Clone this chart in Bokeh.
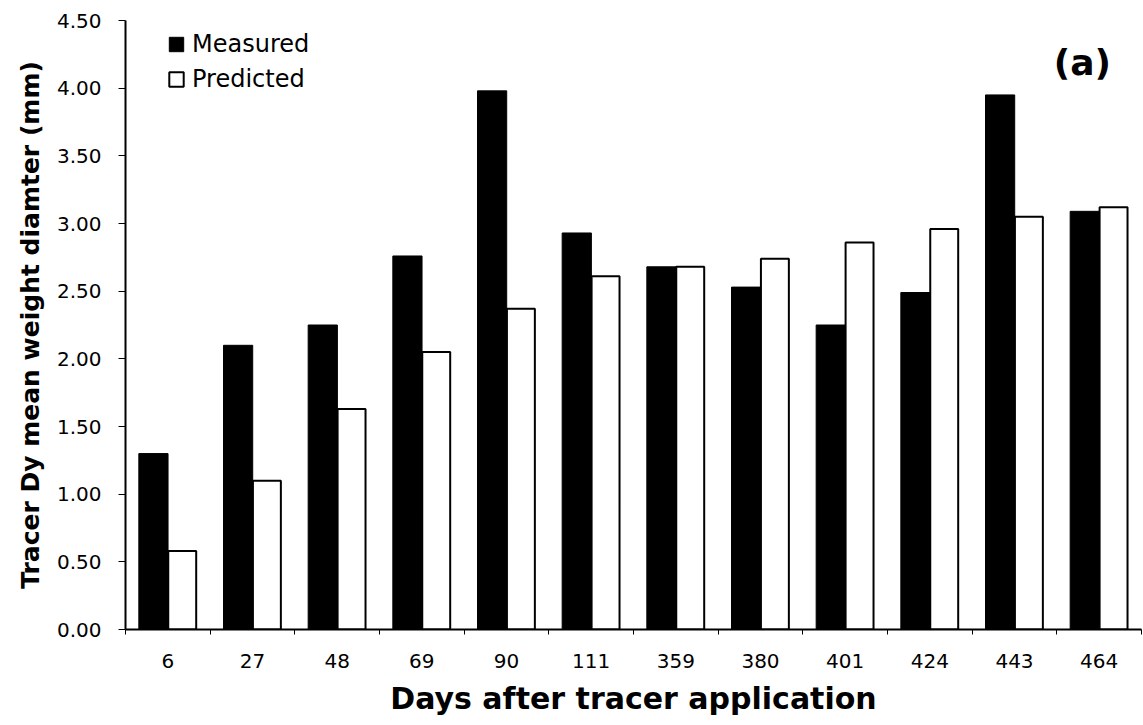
from bokeh.plotting import figure
from bokeh.models import (ColumnDataSource, FixedTicker, Range1d, Legend, LegendItem,
                          Label, NumeralTickFormatter)
from bokeh.embed import file_html
from bokeh.resources import INLINE

days = ["6", "27", "48", "69", "90", "111", "359", "380", "401", "424", "443", "464"]
measured = [1.30, 2.10, 2.25, 2.76, 3.98, 2.93, 2.68, 2.53, 2.25, 2.49, 3.95, 3.09]
predicted = [0.58, 1.10, 1.63, 2.05, 2.37, 2.61, 2.68, 2.74, 2.86, 2.96, 3.05, 3.12]
y_ticks = [0.0, 0.5, 1.0, 1.5, 2.0, 2.5, 3.0, 3.5, 4.0, 4.5]

n = len(days)
centers = [i + 0.5 for i in range(n)]
src = ColumnDataSource(dict(
    xm=[c - 0.17 for c in centers],
    xp=[c + 0.17 for c in centers],
    m=measured, p=predicted))

FONT = "DejaVu Sans"

p = figure(width=1143, height=725, output_backend="svg", toolbar_location=None,
           x_range=Range1d(0, n), y_range=Range1d(0, 4.5),
           min_border_left=125, min_border_right=2, min_border_top=20, min_border_bottom=96)
p.outline_line_color = None
p.xgrid.grid_line_color = None
p.ygrid.grid_line_color = None

rm = p.vbar(x="xm", top="m", width=0.345, source=src, fill_color="black", line_color="black")
rp = p.vbar(x="xp", top="p", width=0.33, source=src, fill_color="white", line_color="black",
            line_width=2)

# x axis
p.xaxis.ticker = FixedTicker(ticks=centers, minor_ticks=list(range(n + 1)))
p.xaxis.major_label_overrides = {c: d for c, d in zip(centers, days)}
p.xaxis.minor_tick_line_color = "black"
p.xaxis.minor_tick_out = 5
p.xaxis.minor_tick_in = 0
p.xaxis.major_label_standoff = 18
p.xaxis.axis_label = "Days after tracer application"
p.xaxis.axis_label_standoff = 10

# y axis
p.yaxis.ticker = FixedTicker(ticks=y_ticks)
p.yaxis.formatter = NumeralTickFormatter(format="0.00")
p.yaxis.minor_tick_line_color = None
p.yaxis.major_tick_out = 7
p.yaxis.major_tick_in = 0
p.yaxis.major_label_standoff = 17
p.yaxis.axis_label = "Tracer Dy mean weight diamter (mm)"
p.yaxis.axis_label_standoff = 9

for ax in (p.xaxis[0], p.yaxis[0]):
    ax.axis_line_width = 2
    ax.axis_line_color = "black"
    ax.major_label_text_font = FONT
    ax.major_label_text_font_size = "20px"
    ax.major_label_text_color = "black"
    ax.axis_label_text_font = FONT
    ax.axis_label_text_font_style = "bold"
    ax.axis_label_text_color = "black"
p.xaxis.major_tick_line_color = None
p.yaxis.major_tick_line_color = "black"
p.xaxis.axis_label_text_font_size = "30px"
p.yaxis.axis_label_text_font_size = "25px"

legend = Legend(items=[LegendItem(label="Measured", renderers=[rm]),
                       LegendItem(label="Predicted", renderers=[rp])],
                location=(42, 536), background_fill_alpha=0, border_line_alpha=0,
                label_text_font=FONT, label_text_font_size="24px",
                label_text_color="black",
                glyph_width=18, glyph_height=18, label_standoff=7, spacing=7,
                padding=0, margin=0)
p.add_layout(legend, "center")

p.add_layout(Label(x=11.64, y=4.5, y_offset=-42, text="(a)", text_align="right",
                   text_baseline="middle",
                   text_font=FONT, text_font_size="36px", text_font_style="bold",
                   text_color="black"))

open("out.html", "w").write(file_html(p, INLINE))
